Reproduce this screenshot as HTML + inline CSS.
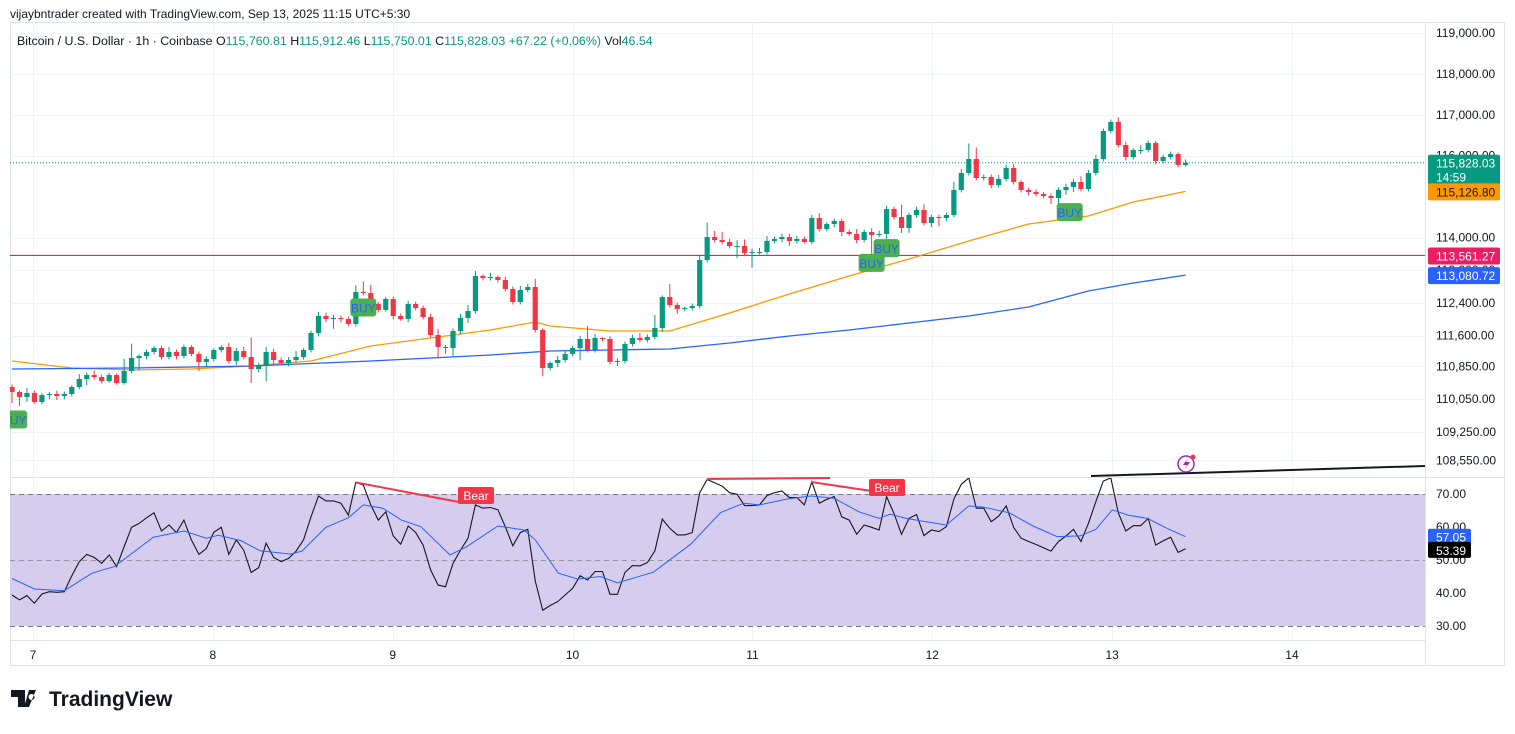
<!DOCTYPE html>
<html><head><meta charset="utf-8"><style>
html,body{margin:0;padding:0;background:#fff;}
body{width:1515px;height:729px;overflow:hidden;font-family:"Liberation Sans",Arial,sans-serif;}
svg text{font-family:"Liberation Sans",Arial,sans-serif;}
</style></head><body>
<svg id="chart" width="1515" height="729" viewBox="0 0 1515 729" xmlns="http://www.w3.org/2000/svg">
<defs>
<clipPath id="mainClip"><rect x="10" y="20" width="1415" height="457"/></clipPath>
<clipPath id="rsiClip"><rect x="10" y="478" width="1415" height="162"/></clipPath>
</defs>
<text x="10" y="18" font-size="12" fill="#131722">vijaybntrader created with TradingView.com, Sep 13, 2025 11:15 UTC+5:30</text>
<rect x="10.5" y="22.5" width="1494" height="643" fill="none" stroke="#e0e3eb"/>
<line x1="1425.5" y1="22" x2="1425.5" y2="665" stroke="#e0e3eb"/>
<line x1="10" y1="477.5" x2="1505" y2="477.5" stroke="#e0e3eb"/>
<line x1="10" y1="640.5" x2="1425" y2="640.5" stroke="#e0e3eb"/>
<g id="grid"></g>
<rect x="10" y="494" width="1415" height="132" fill="#d6cced"/>
<line x1="10" y1="494.5" x2="1425" y2="494.5" stroke="#787b86" stroke-dasharray="5,4"/>
<line x1="10" y1="560.5" x2="1425" y2="560.5" stroke="#9598a1" stroke-dasharray="5,4"/>
<line x1="10" y1="626.5" x2="1425" y2="626.5" stroke="#787b86" stroke-dasharray="5,4"/>
<g id="main" clip-path="url(#mainClip)"></g>
<g id="rsi" clip-path="url(#rsiClip)"></g>
<g id="axis"></g>
<text x="17" y="45" font-size="12.4" fill="#131722">Bitcoin / U.S. Dollar · 1h · Coinbase  <tspan fill="#131722">O</tspan><tspan fill="#089981">115,760.81</tspan>  <tspan fill="#131722">H</tspan><tspan fill="#089981">115,912.46</tspan>  <tspan fill="#131722">L</tspan><tspan fill="#089981">115,750.01</tspan>  <tspan fill="#131722">C</tspan><tspan fill="#089981">115,828.03 +67.22 (+0.06%)</tspan>  <tspan fill="#131722">Vol</tspan><tspan fill="#089981">46.54</tspan></text>
<g>
<path d="M11 690h14v17h-7v-10h-7z M29 690h7l-7 17h-5z M31.5 694a3 3 0 1 0 0.1 0z" fill="#131722"/>
<text x="49" y="706" font-size="21" font-weight="bold" fill="#131722">TradingView</text>
</g>
</svg>
<script>
// ---- data ----
const open0 = 110345;
const closes = [110223,110100,110198,109978,110149,110174,110125,110174,110345,110540,
110638,110589,110491,110638,110442,110736,111054,111103,111201,111298,
111078,111201,111103,111323,111152,110956,111030,111250,111323,110981,
111225,111078,110785,110858,111201,111005,110932,111005,111078,111250,
111665,112081,112007,112032,112007,111886,112668,112643,112374,112228,
112496,112081,112007,112374,112276,112056,111616,111323,111298,111714,
112032,112203,113059,113010,113034,112961,112741,112423,112716,112790,
111739,110810,110932,111005,111152,111298,111519,111250,111543,111519,
110956,110981,111396,111543,111494,111568,111787,112545,112350,112252,
112276,112325,113450,114012,113939,113890,113792,113792,113622,113646,
113646,113915,113963,114012,113915,113963,113890,114477,114208,114330,
114404,114135,114086,113939,114135,114061,114086,114697,114501,114232,
114550,114672,114355,114501,114477,114550,115162,115577,115920,115455,
115480,115284,115431,115699,115357,115162,115113,115064,115015,114966,
115162,115235,115357,115186,115577,115920,116604,116824,116262,115968,
116140,116140,116311,115871,115968,116042,115773,115828];
const wickHigh = [60,40,120,60,40,50,80,60,40,120,
60,110,60,60,40,300,350,40,60,50,
60,120,60,60,50,60,60,40,40,100,
80,100,480,80,120,80,60,70,150,40,
60,100,80,80,60,60,160,260,200,50,
50,60,60,80,60,60,80,150,50,60,
100,150,120,40,100,40,80,60,100,80,
200,40,40,100,60,60,80,320,100,20,
60,60,60,80,120,60,320,40,320,60,
40,60,100,350,150,200,80,140,160,80,
100,120,60,80,80,80,60,80,120,40,
60,60,60,120,60,90,80,80,60,300,
60,80,140,60,60,60,200,100,380,280,
60,60,100,80,100,40,60,60,50,60,
60,80,80,140,80,100,60,60,120,80,
40,120,60,50,60,60,40,80];
const wickLow = [270,220,120,40,60,100,100,80,60,60,
150,60,60,40,40,40,60,300,80,60,
60,60,80,60,60,220,120,60,60,60,
100,60,340,80,380,100,60,80,60,60,
60,80,80,240,80,60,60,60,80,60,
40,80,40,80,60,60,60,280,140,200,
80,120,60,60,60,60,60,60,60,60,
60,200,60,100,60,60,300,60,60,60,
60,100,60,60,60,60,60,100,60,120,
60,60,60,60,60,60,60,300,80,360,
60,60,60,80,120,60,40,60,60,60,
80,100,40,80,60,460,60,120,60,120,
120,60,60,100,200,80,60,60,60,60,
60,80,60,60,60,60,80,60,60,150,
160,120,120,60,60,60,60,60,60,80,
60,100,60,80,60,60,60,40];
const emaIdx = [0,8,16,24,32,40,48,56,64,70,72,80,88,92,96,104,112,120,128,136,144,150,157];
const emaFast = [110980,110810,110761,110785,110858,110980,111348,111543,111739,111934,111837,111714,111714,111934,112154,112619,113059,113474,113914,114330,114526,114868,115127];
const emaSlowIdx = [0,16,32,48,64,72,80,88,96,104,112,120,128,136,144,150,157];
const emaSlow = [110785,110810,110858,110980,111127,111225,111250,111274,111421,111592,111739,111910,112081,112301,112692,112888,113081];
const rsi = [39.4,37.9,39.2,36.9,39.7,40.4,40.2,40.4,45.2,49.5,
51.7,50.8,49.0,51.5,48.0,54.0,59.9,61.1,62.8,64.3,
58.8,60.6,58.3,62.1,56.1,51.7,53.5,58.4,59.9,51.7,
56.1,53.0,46.2,47.7,55.1,50.8,49.5,50.5,52.7,56.1,
63.1,69.4,67.9,67.9,67.2,63.6,73.5,72.7,66.7,62.1,
64.6,57.3,54.8,60.3,58.4,54.5,47.0,42.4,41.9,49.0,
53.0,56.6,66.7,65.7,65.9,65.2,60.1,54.3,58.3,59.3,
43.6,34.8,36.2,37.4,39.4,41.4,45.2,
43.9,46.5,46.5,39.6,39.6,46.2,48.3,48.2,49.2,52.8,
62.4,59.6,57.6,57.6,58.3,70.4,74.4,73.4,72.4,70.4,
69.9,66.5,66.5,66.7,69.5,70.4,70.9,68.9,68.9,66.7,
73.7,67.2,68.4,69.2,63.1,62.1,57.8,60.6,59.9,59.1,
69.2,64.1,57.8,62.6,63.8,57.4,59.1,58.6,60.1,68.4,
72.9,74.9,65.7,65.7,61.6,63.3,66.4,59.9,56.6,55.6,
54.7,53.7,52.7,55.6,57.3,59.3,55.6,61.1,67.7,73.9,
74.9,64.3,58.8,60.4,60.4,62.6,54.5,55.8,56.9,52.3,53.39];
const rsiMaIdx = [0,3,7,10.7,13.7,18.9,23,26,27.6,30.6,33.2,37.3,38.8,42,45,47,49.6,52.1,54.7,58.6,60.8,65,68.5,70,73.1,75.7,78.7,81,85.8,90.8,94.8,97.9,100,103.8,106.9,110,113.3,116,117.5,119.6,122.3,125,128,130,133.4,136.6,139.8,142.9,145,147.2,149.3,151.9,154.5,157];
const rsiMa = [44.4,41.2,40.7,46,48,56.9,58.8,56.6,57.5,55.9,52.8,51.8,52.7,59.9,62.8,66.7,65.7,62.1,60.1,51.5,54,60.3,59.1,56.1,46,44.2,45,43.1,46.3,54.8,64.4,67.2,66.7,68.5,69.4,68.7,64.6,62.6,63.9,62.6,61.6,60.6,66.4,66,64.3,60.3,57.1,57.3,59.3,65.2,63.6,62.6,59.6,57.05];
const priceTicks = [119000,118000,117000,116000,114000,113200,112400,111600,110850,110050,109250,108550];
const priceTickLabels = ["119,000.00","118,000.00","117,000.00","116,000.00","114,000.00","113,200.00","112,400.00","111,600.00","110,850.00","110,050.00","109,250.00","108,550.00"];
const rsiTicks = [70,60,50,40,30];
const rsiTickLabels = ["70.00","60.00","50.00","40.00","30.00"];
const dayTickHours = [0,24,48,72,96,120,144,168];
const dayLabels = ["7","8","9","10","11","12","13","14"];
const hLevel = 113561.27;
const lastPrice = 115828.03;
const buySignals = [{i:0.3,p:109550},{i:47,p:112290},{i:117,p:113740},{i:115,p:113380},{i:141.5,p:114620}];

// ---- scales ----
const xI = i => 12 + 7.475*i;
const xH = h => 33 + 7.494*h;
const yP = p => 33 + (119000-p)*0.0409;
const yR = v => 494 + (70-v)*3.3;
const NS = "http://www.w3.org/2000/svg";
function mk(tag, attrs, parent){const e=document.createElementNS(NS,tag);for(const k in attrs)e.setAttribute(k,attrs[k]);parent.appendChild(e);return e;}
const grid=document.getElementById('grid'), main=document.getElementById('main'), rsiG=document.getElementById('rsi'), axis=document.getElementById('axis'), svg=document.getElementById('chart');

priceTicks.forEach((p,k)=>{
  const l=mk('line',{x1:10,x2:1425,y1:Math.round(yP(p))+0.5,y2:Math.round(yP(p))+0.5,stroke:'#f0f3fa'},grid);
  
  
  const t=mk('text',{x:1436,y:yP(p)+4,'font-size':12,fill:'#131722'},axis);
  t.textContent=priceTickLabels[k];
  
  
});
dayTickHours.forEach((h,k)=>{
  const x=Math.round(xH(h))+0.5;
  const l=mk('line',{x1:x,x2:x,y1:22,y2:640,stroke:'#f0f3fa'},grid);
  
  
  const t=mk('text',{x:xH(h),y:659,'font-size':12,fill:'#131722','text-anchor':'middle'},svg);
  t.textContent=dayLabels[k];
  
  
});
rsiTicks.forEach((v,k)=>{
  const t=mk('text',{x:1436,y:yR(v)+4,'font-size':12,fill:'#131722'},axis);
  t.textContent=rsiTickLabels[k];
  
  
});

const hl=mk('line',{x1:10,x2:1425,y1:yP(hLevel),y2:yP(hLevel),stroke:'#e91e63','stroke-width':1.2},main);


const lp=mk('line',{x1:10,x2:1425,y1:yP(lastPrice),y2:yP(lastPrice),stroke:'#089981','stroke-dasharray':'1,2'},main);



function polyFrom(idx, vals, yf){return idx.map((i,k)=>xI(i).toFixed(1)+','+yf(vals[k]).toFixed(1)).join(' ');}
const ef=mk('polyline',{points:polyFrom(emaIdx,emaFast,yP),fill:'none',stroke:'#ff9800','stroke-width':1.3},main);


const es=mk('polyline',{points:polyFrom(emaSlowIdx,emaSlow,yP),fill:'none',stroke:'#2962ff','stroke-width':1.3},main);



closes.forEach((c,i)=>{
  const o = i===0 ? open0 : closes[i-1];
  const up = c>=o;
  const col = up ? '#089981' : '#f23645';
  const x = xI(i);
  const top = Math.max(o,c), bot = Math.min(o,c);
  const w=mk('line',{x1:x,x2:x,y1:yP(top+wickHigh[i]),y2:yP(bot-wickLow[i]),stroke:col,'stroke-width':1},main);
  
  
  const h=Math.max(1,yP(bot)-yP(top));
  const b=mk('rect',{x:x-2.6,y:yP(top),width:5.2,height:h,fill:col},main);
  
  
});

buySignals.forEach(s=>{
  const cx=xI(s.i), cy=yP(s.p);
  const g=mk('g',{},main);
  
  
  mk('rect',{x:cx-13,y:cy-9,width:26,height:18,rx:3,fill:'#4caf50'},g);
  const t=mk('text',{x:cx,y:cy+5,'font-size':12,fill:'#2962ff','text-anchor':'middle'},g);
  t.textContent='BUY';
});

const rl=mk('polyline',{points:rsi.map((v,i)=>xI(i).toFixed(1)+','+yR(v).toFixed(1)).join(' '),fill:'none',stroke:'#131722','stroke-width':1.1},rsiG);


const rm=mk('polyline',{points:polyFrom(rsiMaIdx,rsiMa,yR),fill:'none',stroke:'#2962ff','stroke-width':1},rsiG);



function seg(x1,y1,x2,y2,col,w,name){const l=mk('line',{x1:x1,y1:y1,x2:x2,y2:y2,stroke:col,'stroke-width':w},svg);return l;}
seg(xI(46),yR(rsi[46]),459,502,'#f23645',2,'bear-divergence-line');
seg(707,479,830,478,'#f23645',2,'bear-divergence-line');
seg(811,482,885,493,'#f23645',2,'bear-divergence-line');
seg(1091,476,1425,466,'#131722',2,'rsi-trendline');
function bear(x,y){const g=mk('g',{},svg);mk('rect',{x:x,y:y,width:36,height:17,rx:2,fill:'#f23645'},g);const t=mk('text',{x:x+18,y:y+13,'font-size':12,fill:'#fff','text-anchor':'middle'},g);t.textContent='Bear';}
bear(458,487);bear(869,479);
const ic=mk('g',{},svg);


mk('circle',{cx:1186,cy:464,r:8,fill:'#fff',stroke:'#9c27b0','stroke-width':1.5},ic);
mk('path',{d:'M1188 458 L1183 465 L1187 465 L1184 470 L1190 462 L1186 462 Z',fill:'#9c27b0'},ic);
mk('circle',{cx:1193,cy:457,r:2.5,fill:'#f23645'},ic);

function badge(y,h,bg,fg,txt,name,w){const g=mk('g',{},svg);mk('rect',{x:1428,y:y,width:w||72,height:h,rx:2,fill:bg},g);txt.forEach((s,k)=>{const t=mk('text',{x:1436,y:y+13+k*14,'font-size':12,fill:fg},g);t.textContent=s;});}
badge(yP(lastPrice)-8,31,'#089981','#fff',['115,828.03','14:59'],'last-price-badge');
badge(yP(115126.8)-8,17,'#ff9800','#131722',['115,126.80'],'ema-fast-badge');
badge(yP(hLevel)-8,17,'#e91e63','#fff',['113,561.27'],'level-badge');
badge(yP(113080.72)-8,17,'#2962ff','#fff',['113,080.72'],'ema-slow-badge');
badge(yR(57.05)-8,16,'#2962ff','#fff',['57.05'],'rsi-ma-badge',43);
badge(yR(53.39)-7,16,'#000','#fff',['53.39'],'rsi-badge',43);
</script>
</body></html>
